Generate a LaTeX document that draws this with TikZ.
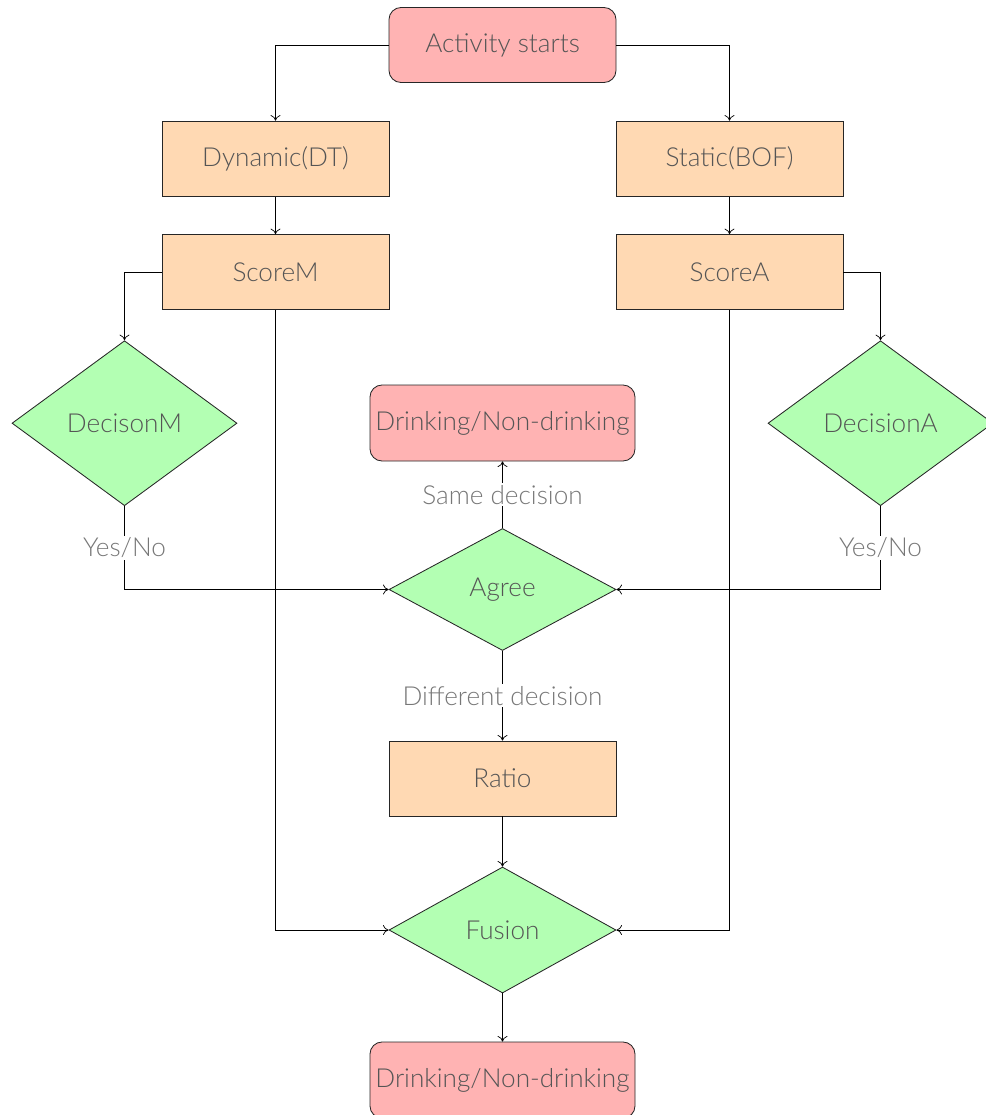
\documentclass[tikz,border=0pt]{standalone}
\usepackage{fontspec}
\setmainfont{Lato}[UprightFont={* Light}]
\usetikzlibrary{positioning,shapes.geometric,arrows.meta}

\definecolor{termpink}{HTML}{FFB3B3}
\definecolor{procpeach}{HTML}{FFD9B3}
\definecolor{decgreen}{HTML}{B3FFB3}
\definecolor{txtgray}{HTML}{555555}
\definecolor{lblgray}{HTML}{777777}

\tikzset{
  base/.style={draw=black!85, line width=0.6pt, text=txtgray,
    font=\fontsize{18.6}{23}\selectfont, align=center},
  term/.style={base, rectangle, rounded corners=0.3cm, fill=termpink,
    minimum width=5.675cm, minimum height=1.875cm},
  wideterm/.style={term, minimum width=6.625cm, minimum height=1.9cm},
  proc/.style={base, rectangle, fill=procpeach,
    minimum width=5.675cm, minimum height=1.875cm},
  decide/.style={base, diamond, fill=decgreen, inner sep=0pt,
    minimum width=5.675cm, minimum height=3.05cm},
  sidedecide/.style={decide, minimum width=5.625cm, minimum height=4.125cm},
  lbl/.style={fill=white, text=lblgray, inner sep=1.5pt,
    font=\fontsize{18.6}{23}\selectfont},
  link/.style={-{To[length=4pt,width=7pt]}, line width=0.5pt}
}

\begin{document}
\begin{tikzpicture}[node distance=2.84cm]
  \useasboundingbox (0,0) rectangle (24.65,-27.875);

  \node[term] (start) at (12.5625,-1.125) {Activity starts};
  \node[proc] (dyn) [below of=start, xshift=-5.675cm] {Dynamic(DT)};
  \node[proc] (stat) [below of=start, xshift=5.675cm] {Static(BOF)};
  \node[proc] (scoreM) [below of=dyn] {ScoreM};
  \node[proc] (scoreA) [below of=stat] {ScoreA};
  \node[sidedecide] (decM) [below of=scoreM, node distance=3.775cm, xshift=-3.775cm] {DecisonM};
  \node[sidedecide] (decA) [below of=scoreA, node distance=3.775cm, xshift=3.775cm] {DecisionA};
  \node[wideterm] (same) [below of=start, node distance=9.45cm] {Drinking/Non-drinking};
  \node[decide] (agree) [below of=same, node distance=4.1625cm] {Agree};
  \node[proc] (ratio) [below of=agree, node distance=4.725cm] {Ratio};
  \node[decide, minimum height=3.15cm] (fusion) [below of=ratio, node distance=3.7875cm] {Fusion};
  \node[wideterm] (final) [below of=fusion, node distance=3.75cm] {Drinking/Non-drinking};

  \draw[link] (start.west) -| (dyn.north);
  \draw[link] (start.east) -| (stat.north);
  \draw[link] (dyn) -- (scoreM);
  \draw[link] (stat) -- (scoreA);
  \draw[link] (scoreM.west) -| (decM.north);
  \draw[link] (scoreA.east) -| (decA.north);
  \draw[link] (scoreM.south) |- (fusion.west);
  \draw[link] (scoreA.south) |- (fusion.east);
  \draw[link] (decM.south) |- node[lbl, pos=0.25] {Yes/No} (agree.west);
  \draw[link] (decA.south) |- node[lbl, pos=0.25] {Yes/No} (agree.east);
  \draw[link] (agree) -- node[lbl] {Same decision} (same);
  \draw[link] (agree) -- node[lbl] {Different decision} (ratio);
  \draw[link] (ratio) -- (fusion);
  \draw[link] (fusion) -- (final);
\end{tikzpicture}
\end{document}
